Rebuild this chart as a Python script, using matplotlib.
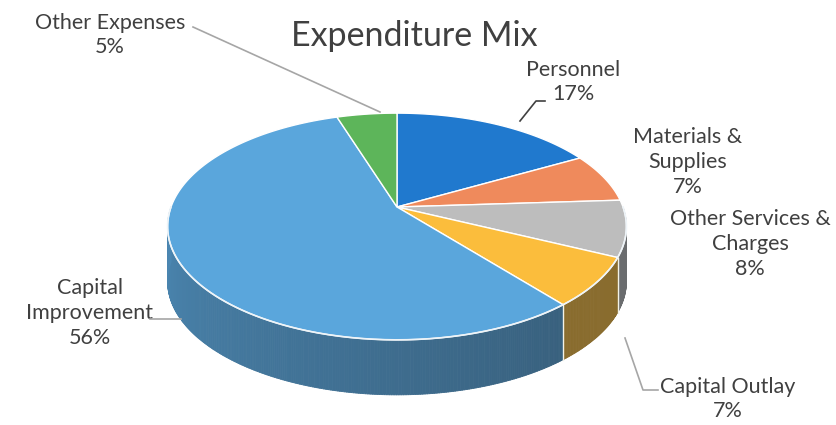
import numpy as np
import matplotlib.pyplot as plt
from matplotlib.collections import PolyCollection
from matplotlib.colors import to_rgb

plt.rcParams['font.family'] = ['Lato', 'DejaVu Sans']

labels = ['Personnel', 'Materials &\nSupplies', 'Other Services &\nCharges',
          'Capital Outlay', 'Capital\nImprovement', 'Other Expenses']
shares = [17, 7, 8, 7, 56, 5]
colors = ['#2079CE', '#EF8A5C', '#BDBDBD', '#FBBD3C', '#5AA6DC', '#5DB55A']

# pie geometry in pixel space (y grows downward), with a little perspective
cx, cy = 397, 207
A, B, k = 226, 110, 0.172
h = 55

fig = plt.figure(figsize=(8.36, 4.25), dpi=100)
ax = fig.add_axes([0, 0, 1, 1])
ax.set_xlim(0, 836)
ax.set_ylim(425, 0)
ax.axis('off')


def pt(t, dy=0):
    r = np.radians(t)
    d = 1 + k * np.sin(r)
    return cx + A * np.cos(r) / d, cy - B * np.sin(r) / d + dy


def shade(t):
    # darker toward the front right of the wall
    u = np.clip((t + 180) / 130.0, 0, 1)
    return 0.78 - 0.28 * u


starts = 90 - np.cumsum([0] + shares[:-1]) * 3.6
ends = starts - np.array(shares) * 3.6

# side wall
quads, qcols = [], []
for t1, t2, c in zip(starts, ends, colors):
    ts = np.linspace(t1, t2, max(int(abs(t1 - t2)) * 2, 4))
    base = np.array(to_rgb(c))
    for u0, u1 in zip(ts[:-1], ts[1:]):
        tm = ((u0 + u1) / 2 + 180) % 360 - 180
        if np.sin(np.radians(tm)) >= 0:
            continue
        quads.append([pt(u0), pt(u1), pt(u1, h), pt(u0, h)])
        kk = shade(tm)
        col = base * kk + np.array([0.25, 0.3, 0.35]) * (1 - kk) * 0.35
        qcols.append(np.clip(col, 0, 1))
ax.add_collection(PolyCollection(quads, facecolors=qcols, edgecolors=qcols,
                                 linewidths=0.6, zorder=1))

# seams between wall segments
for t in starts:
    tt = (t + 180) % 360 - 180
    if np.sin(np.radians(tt)) < -0.01:
        x0, y0 = pt(t)
        ax.plot([x0, x0], [y0, y0 + h], color='#F2F2E8', lw=1.0, zorder=2)

# top face
for t1, t2, c in zip(starts, ends, colors):
    ts = np.linspace(t1, t2, 200)
    xs, ys = pt(ts)
    ax.fill(np.r_[cx, xs], np.r_[cy, ys], facecolor=c, edgecolor='white',
            linewidth=1.0, zorder=3)

# light rim along the front edge
ts = np.linspace(-180, 0, 300)
ax.plot(*pt(ts), color='#EEF4F8', lw=1.2, zorder=4)

ax.text(414, 36, 'Expenditure Mix', fontsize=24.5, ha='center', va='center',
        color='#404040')

lab_pos = [(573, 82), (688, 162), (750, 244), (728, 399), (90, 313), (110, 35)]
fs = 15.5
for (x, y), lab, s in zip(lab_pos, labels, shares):
    ax.text(x, y, f'{lab}\n{s}%', fontsize=fs, ha='center', va='center',
            color='#404040', linespacing=1.3)

# leader lines
lc = '#A6A6A6'
ax.plot([193, 380], [27, 112], color=lc, lw=1.2, zorder=5)
ax.plot([150, 181], [319, 319], color=lc, lw=1.2, zorder=5)
ax.plot([625, 643, 658], [338, 390, 390], color=lc, lw=1.2, zorder=5)
ax.plot([545, 536, 520], [101, 101, 121], color='#404040', lw=1.2, zorder=5)

fig.savefig('out.png', dpi=100, facecolor='white')
